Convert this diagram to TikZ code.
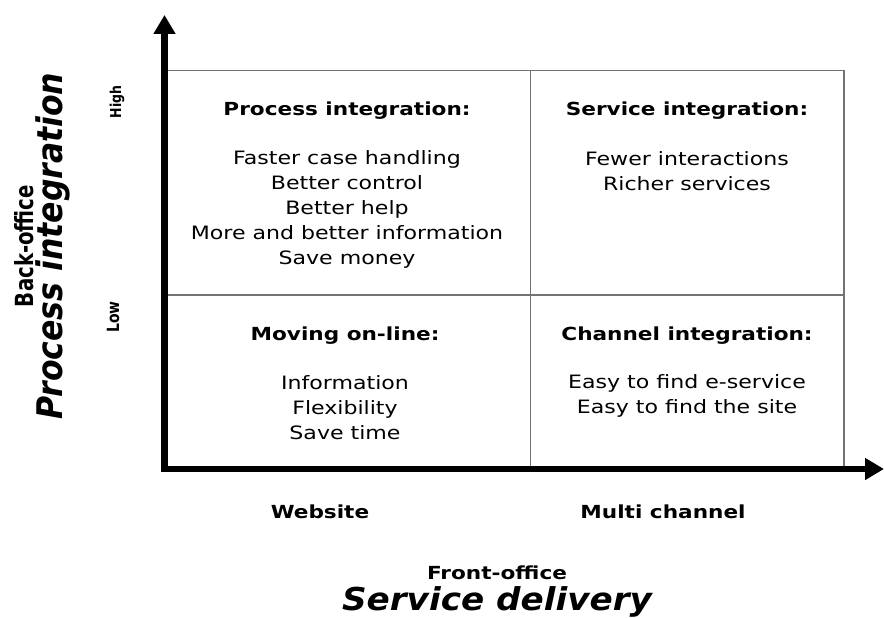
\documentclass[tikz,border=0pt]{standalone}
\usepackage{fontspec}
\usepackage{graphicx}
\setmainfont{DejaVu Sans}
\newfontfamily\widefont[FakeStretch=1.2]{DejaVu Sans}
\usetikzlibrary{arrows.meta}

\tikzset{
  axisline/.style={line width=6.8pt, -{Triangle[width=21pt,length=19pt]}},
  cellline/.style={draw=black!55, line width=1.2pt},
  heading/.style={font=\widefont\fontsize{18}{22}\selectfont\bfseries, inner sep=0pt},
  itemlist/.style={font=\widefont\fontsize{18.4}{25}\selectfont, align=center, inner sep=0pt},
  axislabel/.style={font=\widefont\fontsize{18}{22}\selectfont\bfseries, inner sep=0pt},
  sidelabel/.style={rotate=90, inner sep=0pt},
}

\begin{document}
\begin{tikzpicture}[x=1pt, y=-1pt]
  \useasboundingbox (0,0) rectangle (884,618);

  % quadrant frame
  \coordinate (tl) at (165,70.5);
  \coordinate (tm) at (530.5,70.5);
  \coordinate (tr) at (844,70.5);
  \coordinate (ml) at (165,295);
  \coordinate (mr) at (844,295);
  \coordinate (bm) at (530.5,469);
  \coordinate (br) at (844,469);
  \draw[cellline] (tl) -- (tr) -- (br);
  \draw[cellline] (tm) -- (bm);
  \draw[cellline] (ml) -- (mr);

  % axes
  \coordinate (origin) at (164.5,472);
  \coordinate (ytip) at (164.5,15);
  \coordinate (xstart) at (161,469);
  \coordinate (xtip) at (884,469);
  \draw[axisline] (origin) -- (ytip);
  \draw[axisline] (xstart) -- (xtip);

  % quadrant contents
  \node[heading] (piHead) at (347,111) {Process integration:};
  \node[itemlist] (piList) at (347,209) {Faster case handling\\Better control\\Better help\\More and better information\\Save money};

  \node[heading] (siHead) at (687,111) {Service integration:};
  \node[itemlist] (siList) at (687,171) {Fewer interactions\\Richer services};

  \node[heading] (moHead) at (345,336) {Moving on-line:};
  \node[itemlist] (moList) at (345,408) {Information\\Flexibility\\Save time};

  \node[heading] (ciHead) at (687,336) {Channel integration:};
  \node[itemlist] (ciList) at (687,396) {Easy to find e-service\\Easy to find the site};

  % horizontal axis labels
  \node[axislabel] (website) at (320,512) {Website};
  \node[axislabel] (multi) at (663,512) {Multi channel};
  \node[axislabel] (front) at (497,573) {Front-office};
  \node[inner sep=0pt, anchor=base] (service) at (497,610)
    {\scalebox{1.14}[1.05]{\fontsize{30}{30}\selectfont\bfseries\itshape Service delivery}};

  % vertical axis labels
  \node[sidelabel] (back) at (24,246)
    {\resizebox{122pt}{19pt}{\bfseries Back-office}};
  \node[sidelabel] (process) at (53,246)
    {\scalebox{1}[1.12]{\fontsize{31.5}{32}\selectfont\bfseries\itshape Process integration}};
  \node[sidelabel] (high) at (117,102)
    {\scalebox{1}[1.2]{\fontsize{12.5}{13}\selectfont\bfseries High}};
  \node[sidelabel] (low) at (113,317)
    {\scalebox{1}[1.2]{\fontsize{14}{14}\selectfont\bfseries Low}};
\end{tikzpicture}
\end{document}
